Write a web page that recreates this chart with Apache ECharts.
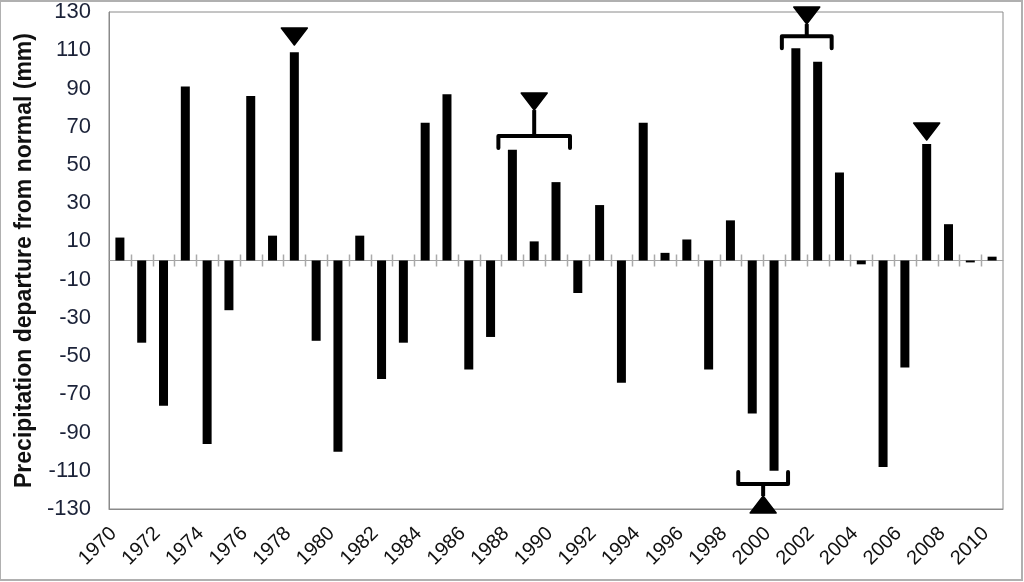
<!DOCTYPE html>
<html>
<head>
<meta charset="utf-8">
<script src="https://cdn.jsdelivr.net/npm/echarts@6/dist/echarts.min.js"></script>
<style>
  html, body { margin: 0; padding: 0; background: #fff; }
  #chart { width: 1024px; height: 582px; }
</style>
</head>
<body>
<div id="chart"></div>
<script>
// years on the x axis
var years = []
for (var y = 1970; y <= 2010; y++) years.push(String(y))

// precipitation departure from normal (mm), 1970..2010
var departure = [
    12, -43, -76, 91, -96, -26, 86, 13, 109, -42,
    -100, 13, -62, -43, 72, 87, -57, -40, 58, 10,
    41, -17, 29, -64, 72, 4, 11, -57, 21, -80,
    -110, 111, 104, 46, -2, -108, -56, 61, 19, -1,
    2
]

// y tick labels shown on the axis
var yTickLabels = [130, 110, 90, 70, 50, 30, 10, -10, -30, -50, -70, -90, -110, -130]

// annotations: triangle (and bracket) marking selected years
var annoStart = ['1978', '1988', '1999', '2001', '2007']
var annoEnd   = ['1978', '1990', '2000', '2002', '2007']
var annoTip   = [112.7, 78.7, -123.2, 123.7, 63]     // value at triangle tip
var annoHook  = [null, 58.8, -110.6, 111.1, null]    // value at bracket hook ends

var annoData = []
for (var i = 0; i < annoStart.length; i++) {
    annoData.push([years.indexOf(annoStart[i]), years.indexOf(annoEnd[i]), annoTip[i], annoHook[i]])
}

// category boundaries for the small ticks crossing the zero line
var tickIdx = []
for (var k = 1; k < years.length; k++) tickIdx.push([k, 0])

function renderAnno(params, api) {
    var s = api.value(0), e = api.value(1), tip = api.value(2)
    var hook = annoHook[params.dataIndex]
    var xs = api.coord([s, 0])[0]
    var xe = api.coord([e, 0])[0]
    var cx = (xs + xe) / 2
    var tipY = api.coord([s, tip])[1]
    var dir = tip > 0 ? 1 : -1   // 1: above, pointing down
    var triH = 17, triW = 13
    var children = [{
        type: 'polygon',
        shape: { points: [[cx, tipY], [cx - triW, tipY - dir * triH], [cx + triW, tipY - dir * triH]] },
        style: { fill: '#000', stroke: '#000', lineWidth: 1.5, lineJoin: 'round' }
    }]
    if (hook != null) {
        var hookY = api.coord([s, hook])[1]
        var barY = hookY - dir * 12
        var ext = 14
        children.push({
            type: 'polyline',
            shape: { points: [[xs - ext, hookY], [xs - ext, barY], [xe + ext, barY], [xe + ext, hookY]] },
            style: { stroke: '#000', lineWidth: 4, fill: null, lineJoin: 'round', lineCap: 'round' }
        })
        children.push({
            type: 'line',
            shape: { x1: cx, y1: barY, x2: cx, y2: tipY },
            style: { stroke: '#000', lineWidth: 4 }
        })
    }
    return { type: 'group', children: children }
}

function renderTick(params, api) {
    var p = api.coord([api.value(0), 0])
    var w = api.size([1, 0])[0]
    var x = Math.round(p[0] - w / 2) + 0.5
    return {
        type: 'line',
        shape: { x1: x, y1: p[1] - 6, x2: x, y2: p[1] + 6 },
        style: { stroke: '#aaaaaa', lineWidth: 1.5 }
    }
}

var myChart = echarts.init(document.getElementById('chart'))

var option = {
    backgroundColor: '#fff',
    animation: false,
    graphic: [{
        type: 'rect',
        shape: { x: 0, y: 1, width: 1022, height: 579 },
        style: { fill: null, stroke: '#b0b0b0', lineWidth: 2 },
        silent: true
    }],
    grid: {
        left: 109, right: 21, top: 12, bottom: 73,
        show: true,
        borderColor: '#8a8a8a',
        borderWidth: 1
    },
    xAxis: [
        {
            // labels along the bottom
            type: 'category',
            data: years,
            position: 'bottom',
            axisLine: { onZero: false, lineStyle: { color: '#8a8a8a' } },
            axisTick: { show: false },
            axisLabel: {
                interval: 1,
                rotate: 45,
                margin: 15,
                padding: [0, 9, 0, 0],
                color: '#111',
                fontFamily: 'Liberation Sans, Arial, sans-serif',
                fontSize: 20
            },
            splitLine: { show: false }
        },
        {
            // zero line
            type: 'category',
            data: years,
            position: 'bottom',
            axisLine: { show: true, onZero: true, lineStyle: { color: '#a0a0a0', width: 1 } },
            axisTick: { show: false },
            axisLabel: { show: false }
        }
    ],
    yAxis: {
        type: 'value',
        min: -130,
        max: 130,
        interval: 10,
        name: 'Precipitation departure from normal (mm)',
        nameLocation: 'middle',
        nameGap: 64,
        nameTextStyle: {
            fontFamily: 'Liberation Sans, Arial, sans-serif',
            fontWeight: 'bold',
            fontSize: 23,
            color: '#111'
        },
        axisLine: { show: true, lineStyle: { color: '#8a8a8a' } },
        axisTick: { show: false },
        splitLine: { show: false },
        axisLabel: {
            margin: 18,
            color: '#1b2238',
            fontFamily: 'Liberation Sans, Arial, sans-serif',
            fontSize: 22,
            formatter: function (v) {
                return yTickLabels.indexOf(v) >= 0 ? String(v) : ''
            }
        }
    },
    series: [
        {
            type: 'custom',
            xAxisIndex: 0,
            renderItem: renderTick,
            encode: { x: 0, y: 1 },
            data: tickIdx,
            silent: true,
            z: 1
        },
        {
            type: 'bar',
            xAxisIndex: 0,
            data: departure,
            barWidth: 9,
            itemStyle: { color: '#000' },
            z: 3
        },
        {
            type: 'custom',
            xAxisIndex: 0,
            renderItem: renderAnno,
            encode: { x: 0, y: 2 },
            data: annoData,
            clip: false,
            z: 5
        }
    ]
}

myChart.setOption(option)
</script>
</body>
</html>
